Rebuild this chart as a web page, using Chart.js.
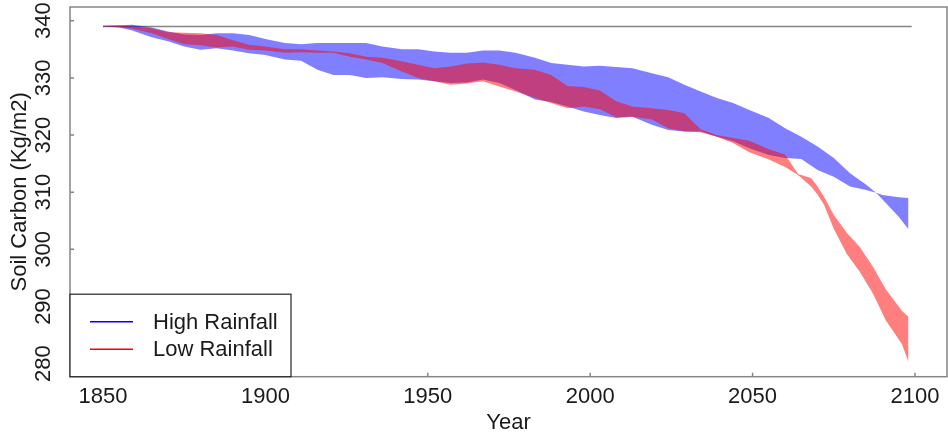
<!DOCTYPE html>
<html>
<head>
<meta charset="utf-8">
<title>Soil Carbon</title>
<script src="https://cdn.jsdelivr.net/npm/chart.js@4.4.1/dist/chart.umd.min.js"></script>
<style>
  html, body { margin: 0; padding: 0; background: #fff; }
  #chart { display: block; }
</style>
</head>
<body>
<canvas id="chart" width="948" height="432"></canvas>
<script>
'use strict';

// envelope of the high rainfall runs (upper / lower edge)
var blueYears = [1850, 1855, 1859, 1865, 1870, 1875, 1880, 1885, 1890, 1895,
  1900, 1906, 1911, 1916, 1921, 1926, 1931, 1936, 1942, 1947,
  1952, 1957, 1962, 1967, 1972, 1977, 1983, 1988, 1993, 1998,
  2003, 2008, 2013, 2019, 2024, 2029, 2034, 2039, 2044, 2049,
  2055, 2060, 2065, 2070, 2075, 2080, 2085, 2088, 2090, 2095, 2098];
var blueHigh = [339.1, 339.2, 339.3, 338.8, 338.1, 337.6, 337.5, 337.8, 337.8, 337.5,
  336.8, 336.1, 335.9, 336.1, 336.1, 336.1, 336.1, 335.5, 335.0, 335.0,
  334.6, 334.4, 334.4, 334.8, 334.8, 334.4, 333.5, 332.6, 332.3, 332.0,
  332.1, 331.9, 331.7, 330.8, 330.1, 328.8, 327.6, 326.5, 325.6, 324.4,
  323.0, 321.2, 319.7, 318.0, 316.0, 313.3, 311.3, 309.9, 309.5, 309.1, 309.0];
var blueLow = [339.0, 338.8, 338.3, 337.1, 336.4, 335.5, 334.9, 335.2, 334.8, 334.3,
  334.0, 333.2, 333.0, 331.4, 330.5, 330.5, 330.0, 330.1, 329.8, 329.7,
  329.4, 329.1, 329.2, 329.7, 329.1, 327.9, 326.2, 325.8, 325.0, 324.1,
  323.5, 323.0, 323.2, 321.8, 320.9, 320.6, 320.6, 319.7, 318.9, 317.7,
  316.5, 316.0, 315.8, 313.9, 312.7, 311.0, 310.4, 309.9, 308.7, 305.7, 303.5];

// envelope of the low rainfall runs
var redYears = [1850, 1855, 1859, 1865, 1870, 1875, 1880, 1885, 1890, 1895,
  1900, 1906, 1911, 1916, 1921, 1926, 1931, 1936, 1942, 1947,
  1952, 1957, 1962, 1967, 1972, 1977, 1983, 1988, 1993, 1998,
  2003, 2008, 2013, 2019, 2024, 2029, 2034, 2039, 2044, 2049,
  2055, 2060, 2064, 2068, 2070, 2072, 2075, 2079, 2083, 2087,
  2091, 2096, 2098];
var redHigh = [339.1, 339.1, 339.0, 338.7, 338.0, 337.9, 337.8, 337.5, 336.6, 335.8,
  335.5, 335.0, 335.0, 334.8, 334.6, 334.3, 333.7, 333.5, 332.9, 332.3,
  331.7, 332.0, 332.5, 332.7, 332.3, 331.7, 331.4, 330.5, 328.6, 328.4,
  327.8, 325.9, 325.0, 324.7, 324.4, 323.8, 321.0, 320.0, 319.5, 319.0,
  317.5, 316.6, 313.2, 312.5, 311.0, 309.2, 306.0, 302.9, 300.4, 297.0,
  293.0, 289.2, 288.2];
var redLow = [339.0, 338.9, 338.6, 337.8, 336.8, 335.9, 335.7, 335.3, 335.5, 334.9,
  334.8, 334.4, 334.5, 334.4, 334.4, 333.7, 333.2, 332.6, 331.1, 330.0,
  329.4, 328.8, 329.0, 329.4, 328.5, 327.6, 326.5, 325.6, 324.7, 325.0,
  324.5, 323.1, 323.2, 322.7, 321.2, 320.6, 320.5, 319.7, 318.6, 317.0,
  315.7, 314.4, 313.0, 311.0, 309.6, 307.8, 303.6, 299.2, 296.1, 292.3,
  287.6, 283.4, 280.3];

// reference level
var baseYears = [1850, 2099];
var baseLevel = [339, 339];

var xTicks = [1850, 1900, 1950, 2000, 2050, 2100];
var yTicks = [280, 290, 300, 310, 320, 330, 340];

var legendNames = ['High Rainfall', 'Low Rainfall'];
var legendColors = ['#0000ff', '#ff0000'];

(function () {
  var fontFamily = "'Liberation Sans', Arial, Helvetica, sans-serif";
  var textColor = '#1a1a1a';
  var frameColor = '#858585';

  function toPoints(xs, ys) {
    return xs.map(function (x, i) { return { x: x, y: ys[i] }; });
  }

  function edge(label, xs, ys, fill, color) {
    return {
      label: label,
      data: toPoints(xs, ys),
      fill: fill,
      backgroundColor: color,
      borderColor: 'transparent',
      borderWidth: 0,
      pointRadius: 0,
      tension: 0
    };
  }

  // R-style box, inward ticks and boxed legend in the lower left corner
  var framePlugin = {
    id: 'frame',
    afterDraw: function (chart) {
      var ctx = chart.ctx;
      var a = chart.chartArea;
      var xs = chart.scales.x;
      var ys = chart.scales.y;

      ctx.save();
      ctx.strokeStyle = frameColor;
      ctx.lineWidth = 1.5;
      ctx.strokeRect(a.left, a.top, a.right - a.left, a.bottom - a.top);

      ctx.beginPath();
      xTicks.forEach(function (v) {
        var px = xs.getPixelForValue(v);
        ctx.moveTo(px, a.bottom);
        ctx.lineTo(px, a.bottom - 4);
      });
      yTicks.forEach(function (v) {
        var py = ys.getPixelForValue(v);
        ctx.moveTo(a.left, py);
        ctx.lineTo(a.left + 4, py);
      });
      ctx.stroke();

      // legend
      var boxTop = a.bottom - 82.5;
      ctx.fillStyle = '#fff';
      ctx.fillRect(a.left, boxTop, 221, a.bottom - boxTop);
      ctx.strokeStyle = '#222';
      ctx.lineWidth = 1.2;
      ctx.strokeRect(a.left, boxTop, 221, a.bottom - boxTop);

      ctx.font = '22px ' + fontFamily;
      ctx.textBaseline = 'middle';
      ctx.textAlign = 'left';
      legendNames.forEach(function (name, i) {
        var y = boxTop + 27.5 + i * 27.6;
        ctx.strokeStyle = legendColors[i];
        ctx.lineWidth = 1.6;
        ctx.beginPath();
        ctx.moveTo(a.left + 20, y);
        ctx.lineTo(a.left + 63, y);
        ctx.stroke();
        ctx.fillStyle = textColor;
        ctx.fillText(name, a.left + 83, y + 1);
      });
      ctx.restore();
    }
  };

  var ctx = document.getElementById('chart').getContext('2d');

  var chart = new Chart(ctx, {
    type: 'line',
    data: {
      datasets: [
        edge('Low Rainfall', redYears, redHigh, '+1', 'rgba(255, 0, 0, 0.5)'),
        edge('Low Rainfall lower', redYears, redLow, false, 'rgba(255, 0, 0, 0.5)'),
        edge('High Rainfall', blueYears, blueHigh, '+1', 'rgba(0, 0, 255, 0.5)'),
        edge('High Rainfall lower', blueYears, blueLow, false, 'rgba(0, 0, 255, 0.5)'),
        {
          label: 'Reference',
          data: toPoints(baseYears, baseLevel),
          borderColor: frameColor,
          borderWidth: 1.5,
          pointRadius: 0,
          fill: false
        }
      ]
    },
    options: {
      responsive: false,
      animation: false,
      devicePixelRatio: 1,
      layout: { padding: { top: 7, right: 1, left: 0, bottom: 0 } },
      plugins: {
        legend: { display: false },
        tooltip: { enabled: false }
      },
      scales: {
        x: {
          type: 'linear',
          min: 1839.84,
          max: 2109.86,
          afterBuildTicks: function (scale) {
            scale.ticks = xTicks.map(function (v) { return { value: v }; });
          },
          afterFit: function (scale) {
            scale.height = 55.3;
            scale.paddingLeft = 0;
            scale.paddingRight = 0;
          },
          grid: { display: false, drawTicks: false },
          border: { display: false },
          ticks: {
            autoSkip: false,
            maxRotation: 0,
            padding: 7,
            color: textColor,
            font: { family: fontFamily, size: 22 },
            callback: function (v) { return String(v); }
          },
          title: {
            display: true,
            text: 'Year',
            color: textColor,
            font: { family: fontFamily, size: 22 },
            padding: { top: 0, bottom: -4 }
          }
        },
        y: {
          type: 'linear',
          min: 277.72,
          max: 342.4,
          afterBuildTicks: function (scale) {
            scale.ticks = yTicks.map(function (v) { return { value: v }; });
          },
          afterFit: function (scale) {
            scale.width = 70;
            scale.paddingTop = 0;
            scale.paddingBottom = 0;
          },
          grid: { display: false, drawTicks: false },
          border: { display: false },
          ticks: {
            minRotation: 90,
            maxRotation: 90,
            crossAlign: 'center',
            padding: 8,
            color: textColor,
            font: { family: fontFamily, size: 22 }
          },
          title: {
            display: true,
            text: 'Soil Carbon (Kg/m2)',
            color: textColor,
            font: { family: fontFamily, size: 22 },
            padding: { top: 7, bottom: 0 }
          }
        }
      }
    },
    plugins: [framePlugin]
  });
})();
</script>
</body>
</html>
